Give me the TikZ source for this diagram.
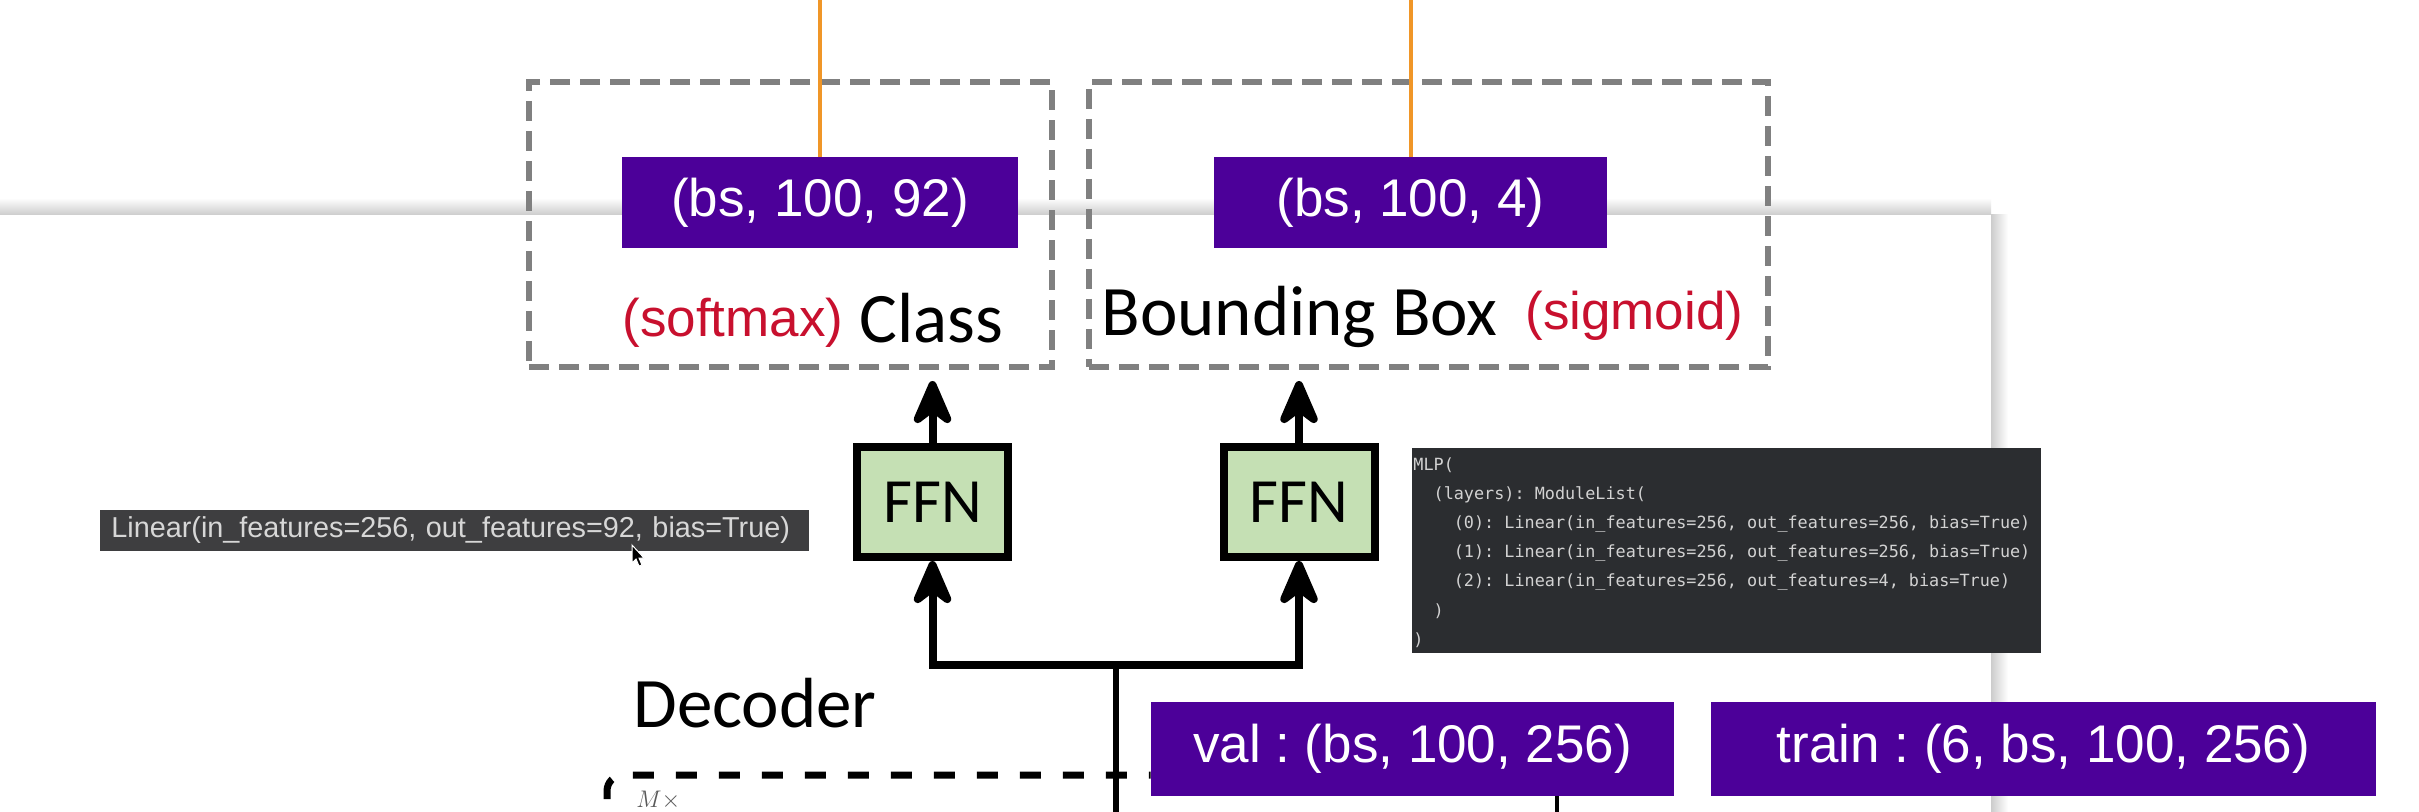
\documentclass[tikz,border=0pt]{standalone}
\usepackage{fontspec}
\setmainfont{Carlito}
\newfontfamily\arialf{Liberation Sans}
\newfontfamily\monof{DejaVu Sans Mono}
\usetikzlibrary{arrows.meta}
\definecolor{purp}{RGB}{76,0,153}
\definecolor{redtx}{RGB}{200,16,46}
\definecolor{ffngreen}{RGB}{197,224,180}
\definecolor{orng}{RGB}{240,150,40}
\definecolor{dgrey}{RGB}{128,128,128}
\definecolor{mlpbg}{RGB}{43,45,48}
\definecolor{mlptx}{RGB}{210,210,210}
\definecolor{tipbg}{RGB}{62,62,64}
\definecolor{tiptx}{RGB}{215,215,215}
\tikzset{arrtip/.tip={Stealth[length=28pt, width=24pt, inset=9pt, round]}}
\frenchspacing
\begin{document}
\begin{tikzpicture}[x=0.5pt,y=-0.5pt,
  dbox/.style={draw=dgrey, line width=3.2pt, dash pattern=on 10pt off 5pt, inner sep=0, outer sep=0},
  purpbox/.style={fill=purp, text=white, font=\arialf\fontsize{26.5}{30}\selectfont, inner sep=0, minimum height=45.5pt},
  redlbl/.style={text=redtx, font=\arialf\fontsize{26.5}{30}\selectfont, inner sep=0},
  biglbl/.style={text=black, font=\fontsize{35.5}{40}\selectfont, inner sep=0},
  ffnbox/.style={draw, line width=4pt, fill=ffngreen, minimum width=75.5pt, minimum height=55pt, font=\fontsize{31.5}{34}\selectfont, inner sep=0},
  arrline/.style={line width=4pt},
  trunkline/.style={line width=2.9pt},
  orangeline/.style={draw=orng, line width=2pt},
  decdash/.style={line width=3.5pt, dash pattern=on 10.5pt off 11pt},
  mlpbox/.style={fill=mlpbg, inner sep=0},
  mlptext/.style={text=mlptx, font=\monof\fontsize{8.4}{14.6}\selectfont, align=left, inner sep=0},
  tipbox/.style={fill=tipbg, text=tiptx, font=\arialf\fontsize{14.4}{16}\selectfont, inner xsep=5.5pt, text width=343.5pt, minimum height=20.5pt, align=left}
]
\useasboundingbox (0,0) rectangle (2419,812);
\clip (0,0) rectangle (2419,812);
\fill[white] (0,0) rectangle (2419,812);
% panel shadow
\shade[top color=white, bottom color=black!20] (0,198) rectangle (1991,215);
\shade[left color=black!20, right color=white] (1991,215) rectangle (2008,812);

\coordinate (top) at (0,0);
\coordinate (bot) at (0,812);

% output boxes
\node[dbox, minimum width=261.5pt, minimum height=142.5pt] (clsbox) at (790.5,224.5) {};
\node[dbox, minimum width=339.5pt, minimum height=142.5pt] (bbbox) at (1428.5,224.5) {};
\node[purpbox, minimum width=198pt] (p1) at (820,202.5) {(bs, 100, 92)};
\node[purpbox, minimum width=196.5pt] (p2) at (1410.5,202.5) {(bs, 100, 4)};
\draw[orangeline] (p1.north) -- (p1.north |- top);
\draw[orangeline] (p2.north) -- (p2.north |- top);

\node[redlbl, anchor=base west] (sm) at (622,337) {(softmax)};
\node[biglbl, anchor=base west] (cls) at (859,343) {Class};
\node[biglbl, anchor=base west] (bb) at (1101,336) {Bounding Box};
\node[redlbl, anchor=base west] (sg) at (1525,330) {(sigmoid)};

% FFNs
\node[ffnbox] (f1) at (932.5,502) {FFN};
\node[ffnbox] (f2) at (1299,502) {FFN};
\draw[arrline, -{arrtip}, shorten >=7pt] (f1.north) -- (f1.north |- clsbox.south);
\draw[arrline, -{arrtip}, shorten >=7pt] (f2.north) -- (f2.north |- bbbox.south);
\coordinate (j) at (1116,665);
\draw[arrline, {arrtip}-{arrtip}] (f1.south) |- (j) -| (f2.south);
\draw[trunkline] (j) -- (j |- bot);

% decoder
\node[biglbl, anchor=base west] (dec) at (633,727) {Decoder};
\coordinate (dc) at (607,775);
\node[purpbox, minimum width=261.5pt, minimum height=47pt] (val) at (1412.5,749) {val : (bs, 100, 256)};
\draw[decdash, rounded corners=8pt] (dc |- bot) ++(0,30) -- (dc) -- (val.west |- dc);
\node[purpbox, minimum width=332.5pt, minimum height=47pt] (train) at (2043.5,749) {train : (6, bs, 100, 256)};
\node[anchor=north west, inner sep=0, text=black!65, font=\fontsize{13}{13}\selectfont] (mx) at (636,791) {$M\times$};
\coordinate (vl) at (1557,812);
\draw[line width=1.6pt] (vl |- val.south) -- (vl);

% MLP printout
\node[mlpbox, minimum width=314.5pt, minimum height=102.5pt] (mlp) at (1726.5,550.5) {};
\node[mlptext, anchor=north west] (mlpt) at (1413,457) {MLP(\\
\phantom{xx}(layers): ModuleList(\\
\phantom{xxxx}(0): Linear(in\_features=256, out\_features=256, bias=True)\\
\phantom{xxxx}(1): Linear(in\_features=256, out\_features=256, bias=True)\\
\phantom{xxxx}(2): Linear(in\_features=256, out\_features=4, bias=True)\\
\phantom{xx})\\
)};

% tooltip
\node[tipbox, anchor=west] (lin) at (100,530.5) {Linear(in\_features=256, out\_features=92, bias=True)};
\coordinate (cur) at (632,545);
\filldraw[fill=black, draw=white, line width=0.5pt, shift={(cur)}] (0,0) -- (0,18) -- (4,14) -- (7,21) -- (10,20) -- (7,13) -- (12,13) -- cycle;
\end{tikzpicture}
\end{document}
